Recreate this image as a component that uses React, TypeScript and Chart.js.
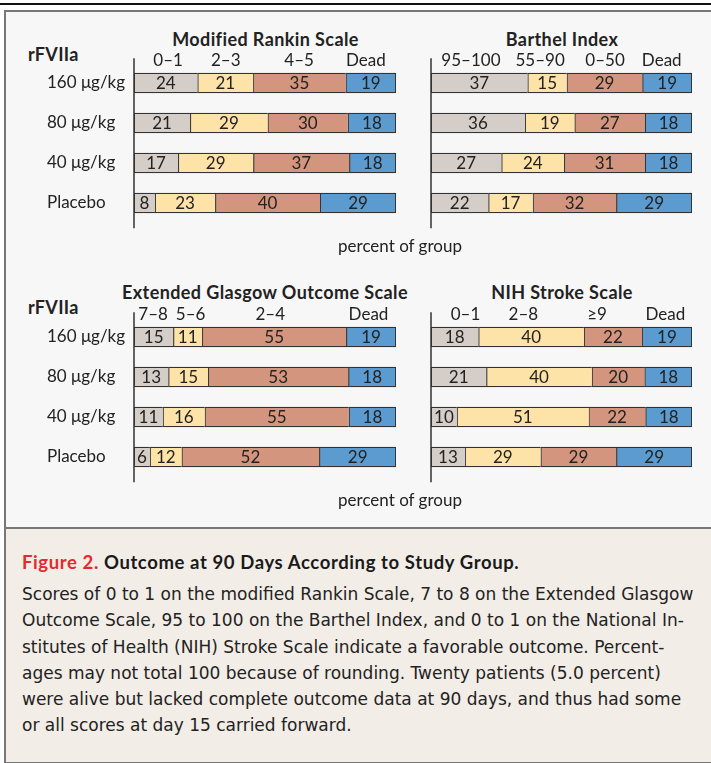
import React, { useEffect, useRef } from "react";
import { Chart, registerables } from "chart.js";

Chart.register(...registerables);

const FONT = "Lato, 'Open Sans', sans-serif";
const CAPTION_FONT = "'DejaVu Sans', Lato, sans-serif";

const groupLabels = ["160 μg/kg", "80 μg/kg", "40 μg/kg", "Placebo"];

const rankinCategories = ["0–1", "2–3", "4–5", "Dead"];
const rankinHeaderAt = [13, 35, 63, 88.5];
const rankinRows = [
  [24, 21, 35, 19],
  [21, 29, 30, 18],
  [17, 29, 37, 18],
  [8, 23, 40, 29],
];

const barthelCategories = ["95–100", "55–90", "0–50", "Dead"];
const barthelHeaderAt = [15.3, 41.8, 66.7, 88.4];
const barthelRows = [
  [37, 15, 29, 19],
  [36, 19, 27, 18],
  [27, 24, 31, 18],
  [22, 17, 32, 29],
];

const glasgowCategories = ["7–8", "5–6", "2–4", "Dead"];
const glasgowHeaderAt = [7.3, 21.6, 52, 89.5];
const glasgowRows = [
  [15, 11, 55, 19],
  [13, 15, 53, 18],
  [11, 16, 55, 18],
  [6, 12, 52, 29],
];

const nihCategories = ["0–1", "2–8", "≥9", "Dead"];
const nihHeaderAt = [13.2, 35.4, 63.6, 89.8];
const nihRows = [
  [18, 40, 22, 19],
  [21, 40, 20, 18],
  [10, 51, 22, 18],
  [13, 29, 29, 29],
];

const segmentColors = ["#d4cdc8", "#fee3a9", "#d4957f", "#5b9bd0"];

type Area = { x0: number; x1: number; y0: number; y1: number };
type PanelProps = {
  rows: number[][];
  categories: string[];
  headerAt: number[];
  showGroups: boolean;
  area: Area;
};

function Panel({ rows, categories, headerAt, showGroups, area }: PanelProps) {
  const ref = useRef<HTMLCanvasElement>(null);
  const padT = 30;
  const padR = 10;
  const padB = 24;
  const left = showGroups ? 47 : area.x0 - 10;
  const top = area.y0 - padT;
  const width = Math.round(area.x1 + padR - left);
  const height = Math.round(area.y1 + padB - top);

  useEffect(() => {
    if (!ref.current) return;
    const datasets = categories.map((c, i) => ({
      label: c,
      data: rows.map((r) => (r[i] / r.reduce((a, b) => a + b, 0)) * 100),
      backgroundColor: segmentColors[i],
      borderColor: "#333333",
      borderWidth:
        i < categories.length - 1
          ? { top: 1.3, bottom: 1.3, left: 1.3, right: 0 }
          : 1.3,
      borderSkipped: false,
      barThickness: 20,
    }));
    const decor = {
      id: "decor",
      afterDatasetsDraw(chart: any) {
        const { ctx, chartArea, scales } = chart;
        ctx.save();
        ctx.strokeStyle = "#333333";
        ctx.lineWidth = 1.5;
        ctx.beginPath();
        ctx.moveTo(chartArea.left, chartArea.top - 4.7);
        ctx.lineTo(chartArea.left, chartArea.bottom + 5.3);
        ctx.stroke();
        ctx.fillStyle = "#222222";
        ctx.font = `17px ${FONT}`;
        ctx.textAlign = "center";
        ctx.textBaseline = "middle";
        chart.data.datasets.forEach((_ds: any, i: number) => {
          const meta = chart.getDatasetMeta(i);
          meta.data.forEach((el: any, j: number) => {
            const p = el.getProps(["x", "base", "y"], true);
            ctx.fillText(String(rows[j][i]), (p.x + p.base) / 2, p.y + 1);
          });
        });
        categories.forEach((c, k) => {
          ctx.fillText(
            c,
            scales.x.getPixelForValue(headerAt[k]),
            chartArea.top - 2.7
          );
        });
        ctx.restore();
      },
    };
    const chart = new Chart(ref.current, {
      type: "bar",
      data: { labels: groupLabels, datasets: datasets as any },
      options: {
        indexAxis: "y",
        responsive: false,
        animation: false,
        devicePixelRatio: 1,
        layout: {
          padding: { left: showGroups ? 0 : 10, right: padR, top: padT, bottom: padB },
        },
        plugins: {
          legend: { display: false },
          tooltip: { enabled: false },
          title: { display: false },
        },
        scales: {
          x: { stacked: true, min: 0, max: 100, display: false },
          y: {
            stacked: true,
            display: showGroups,
            grid: { display: false },
            border: { display: false },
            ticks: {
              crossAlign: "far",
              color: "#222222",
              font: { family: FONT, size: 17 },
            },
            afterFit: showGroups
              ? (s: any) => {
                  s.width = area.x0 - left;
                }
              : undefined,
          },
        },
      } as any,
      plugins: [decor],
    });
    return () => chart.destroy();
  }, []);

  return (
    <canvas
      ref={ref}
      width={width}
      height={height}
      style={{ position: "absolute", left, top, width, height }}
    />
  );
}

const txt = (extra: React.CSSProperties): React.CSSProperties => ({
  position: "absolute",
  fontFamily: FONT,
  color: "#222",
  whiteSpace: "nowrap",
  ...extra,
});

const titleStyle = (center: number, top: number) =>
  txt({
    left: center - 200,
    width: 400,
    top,
    lineHeight: "22px",
    fontSize: 18,
    fontWeight: 700,
    letterSpacing: "0.4px",
    textAlign: "center",
  });

const captionLines = [
  "Scores of 0 to 1 on the modified Rankin Scale, 7 to 8 on the Extended Glasgow",
  "Outcome Scale, 95 to 100 on the Barthel Index, and 0 to 1 on the National In-",
  "stitutes of Health (NIH) Stroke Scale indicate a favorable outcome. Percent-",
  "ages may not total 100 because of rounding. Twenty patients (5.0 percent)",
  "were alive but lacked complete outcome data at 90 days, and thus had some",
  "or all scores at day 15 carried forward.",
];

export default function App() {
  const topArea = { y0: 62.7, y1: 222.7 };
  const botArea = { y0: 317.3, y1: 477.3 };
  return (
    <div
      style={{
        position: "absolute",
        left: 0,
        top: 0,
        width: 711,
        height: 763,
        overflow: "hidden",
        background: "#ffffff",
      }}
    >
      <div style={{ position: "absolute", left: 0, top: 3, width: 711, height: 2, background: "#111" }} />
      <div
        style={{
          position: "absolute",
          left: 4,
          top: 10,
          width: 720,
          height: 750,
          border: "2px solid #777",
          background: "#f7f7f7",
        }}
      />
      <div
        style={{
          position: "absolute",
          left: 4,
          top: 527,
          width: 720,
          height: 233,
          border: "2px solid #777",
          background: "#f2ede7",
        }}
      />

      <div style={titleStyle(265.5, 28)}>Modified Rankin Scale</div>
      <div style={titleStyle(562, 28)}>Barthel Index</div>
      <div style={titleStyle(265, 281)}>Extended Glasgow Outcome Scale</div>
      <div style={titleStyle(562, 281)}>NIH Stroke Scale</div>
      <div style={txt({ left: 28, top: 43, lineHeight: "22px", fontSize: 18, fontWeight: 700, letterSpacing: "0.3px" })}>rFVIIa</div>
      <div style={txt({ left: 28, top: 296, lineHeight: "22px", fontSize: 18, fontWeight: 700, letterSpacing: "0.3px" })}>rFVIIa</div>

      <Panel rows={rankinRows} categories={rankinCategories} headerAt={rankinHeaderAt} showGroups={true} area={{ x0: 134, x1: 396, ...topArea }} />
      <Panel rows={barthelRows} categories={barthelCategories} headerAt={barthelHeaderAt} showGroups={false} area={{ x0: 431, x1: 692.3, ...topArea }} />
      <Panel rows={glasgowRows} categories={glasgowCategories} headerAt={glasgowHeaderAt} showGroups={true} area={{ x0: 134, x1: 396, ...botArea }} />
      <Panel rows={nihRows} categories={nihCategories} headerAt={nihHeaderAt} showGroups={false} area={{ x0: 431, x1: 692.3, ...botArea }} />

      <div style={txt({ left: 300, width: 200, top: 235, lineHeight: "22px", fontSize: 17, textAlign: "center" })}>
        percent of group
      </div>
      <div style={txt({ left: 300, width: 200, top: 489, lineHeight: "22px", fontSize: 17, textAlign: "center" })}>
        percent of group
      </div>

      <div
        style={txt({
          left: 22,
          top: 549,
          lineHeight: "26px",
          fontSize: 18.5,
          fontWeight: 700,
          letterSpacing: "0.6px",
          color: "#1a1a1a",
        })}
      >
        <span style={{ color: "#e32a2f" }}>Figure 2.</span> Outcome at 90 Days According to Study Group.
      </div>
      <div
        style={txt({
          left: 22,
          top: 581,
          lineHeight: "26.3px",
          fontSize: 17,
          fontFamily: CAPTION_FONT,
          color: "#222",
        })}
      >
        {captionLines.map((l, i) => (
          <div key={i}>{l}</div>
        ))}
      </div>
    </div>
  );
}
